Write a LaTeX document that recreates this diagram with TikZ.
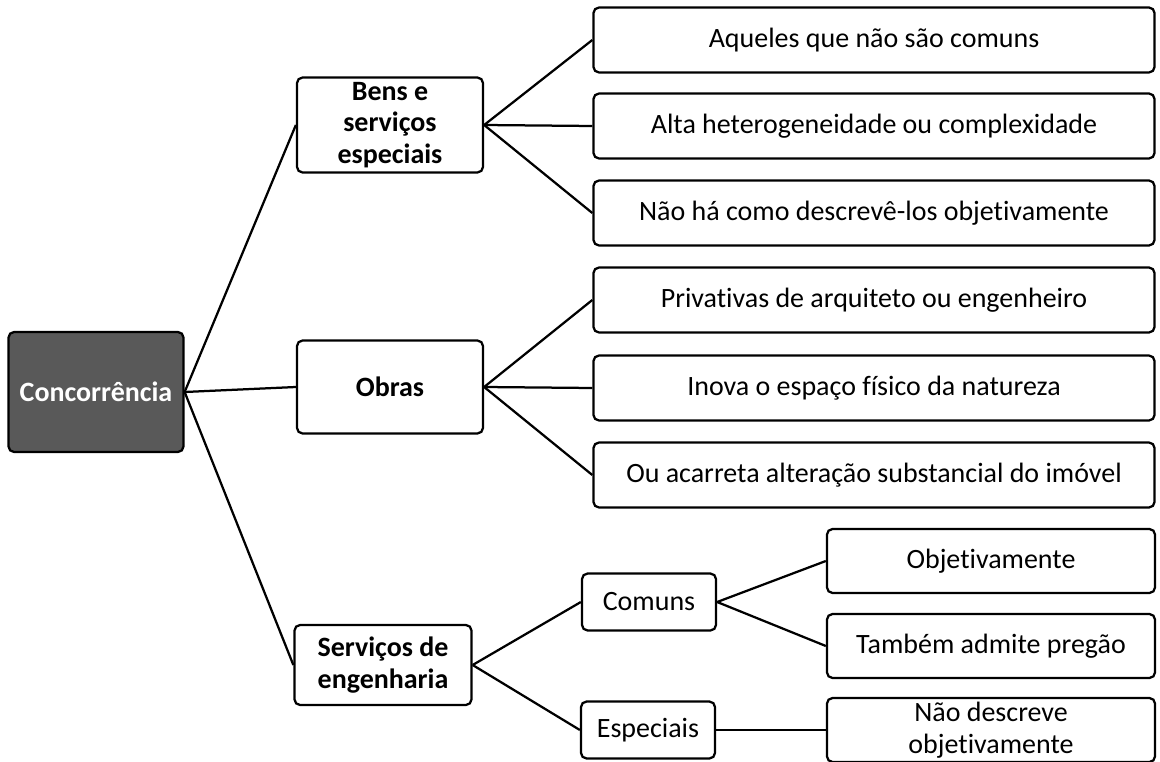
\documentclass[tikz,border=0pt]{standalone}
\usepackage{fontspec}
\setmainfont{Carlito}[Ligatures=CommonOff]
\begin{document}
\begin{tikzpicture}[x=0.025cm, y=-0.025cm,
    caixa/.style={draw, line width=1.6pt, rounded corners=4pt, align=center,
        inner sep=2pt, font=\fontsize{19.9}{22.5}\selectfont},
    ramo/.style={caixa, font=\fontsize{19.9}{22.5}\selectfont\bfseries,
        minimum width=4.65cm},
    folha/.style={caixa, minimum width=14.025cm, minimum height=1.625cm},
    folhinha/.style={caixa, minimum width=8.2cm, minimum height=1.6cm},
    tipo/.style={caixa, minimum width=3.35cm, minimum height=1.425cm},
    liga/.style={line width=1.6pt}]

    \useasboundingbox (0,0) rectangle (1160,762);

    % Raiz
        \node[caixa, fill=black!65, text=white, minimum width=4.375cm,
            minimum height=3cm, font=\fontsize{19.9}{22.5}\selectfont\bfseries]
            (conc) at (96,392) {Concorrência};

    % Ramos
        \node[ramo, minimum height=2.375cm] (bens) at (390,125) {Bens e\\serviços\\especiais};
        \node[ramo, minimum height=2.325cm] (obras) at (390,387) {Obras};
        \node[ramo, minimum width=4.425cm, minimum height=2cm] (serv) at (383,665) {Serviços de\\engenharia};

        \draw[liga] (conc.east) -- (bens.west);
        \draw[liga] (conc.east) -- (obras.west);
        \draw[liga] (conc.east) -- (serv.west);

    % Bens e serviços especiais
        \node[folha] (aqueles) at (874,40) {Aqueles que não são comuns};
        \node[folha] (alta) at (874,126) {Alta heterogeneidade ou complexidade};
        \node[folha] (naoha) at (874,213) {Não há como descrevê-los objetivamente};

        \draw[liga] (bens.east) -- (aqueles.west);
        \draw[liga] (bens.east) -- (alta.west);
        \draw[liga] (bens.east) -- (naoha.west);

    % Obras
        \node[folha] (priv) at (874,300) {Privativas de arquiteto ou engenheiro};
        \node[folha] (inova) at (874,388) {Inova o espaço físico da natureza};
        \node[folha] (acarreta) at (874,475) {Ou acarreta alteração substancial do imóvel};

        \draw[liga] (obras.east) -- (priv.west);
        \draw[liga] (obras.east) -- (inova.west);
        \draw[liga] (obras.east) -- (acarreta.west);

    % Serviços de engenharia
        \node[tipo] (comuns) at (649,602) {Comuns};
        \node[tipo] (espec) at (648,730) {Especiais};

        \draw[liga] (serv.east) -- (comuns.west);
        \draw[liga] (serv.east) -- (espec.west);

        \node[folhinha] (objet) at (991,561) {Objetivamente};
        \node[folhinha] (tambem) at (991,646) {Também admite pregão};
        \node[folhinha] (naodesc) at (991,730) {Não descreve\\objetivamente};

        \draw[liga] (comuns.east) -- (objet.west);
        \draw[liga] (comuns.east) -- (tambem.west);
        \draw[liga] (espec.east) -- (naodesc.west);

\end{tikzpicture}
\end{document}
